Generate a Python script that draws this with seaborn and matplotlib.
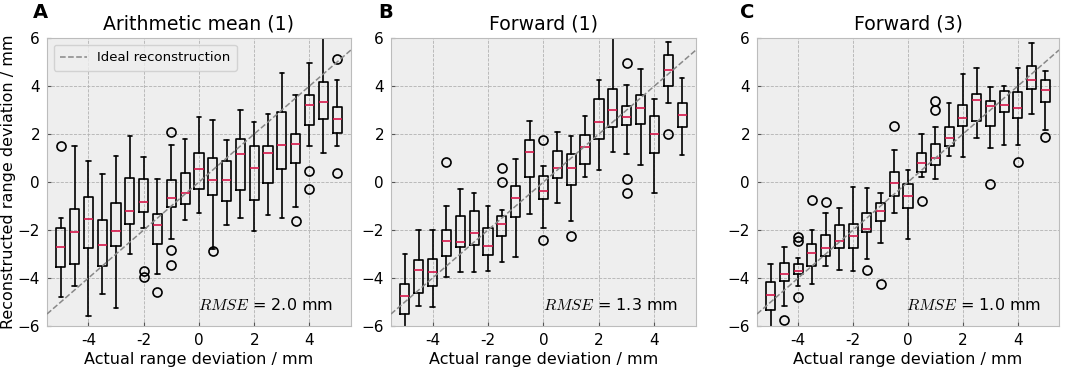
import matplotlib
matplotlib.use("Agg")
import matplotlib.pyplot as plt
import seaborn as sns

# actual range deviations (box positions) and tick labels
positions = [-5, -4.5, -4, -3.5, -3, -2.5, -2, -1.5, -1, -0.5, 0,
             0.5, 1, 1.5, 2, 2.5, 3, 3.5, 4, 4.5, 5]
xtick_vals = [-4, -2, 0, 2, 4]
xtick_labels = ["-4", "-2", "0", "2", "4"]
ytick_vals = [-6, -4, -2, 0, 2, 4, 6]
ideal_x = [-5.5, 5.5]

# Panel A: Arithmetic mean (1)
a_whislo = [-4.79, -4.33, -5.60, -4.65, -5.23, -2.98, -1.91, -3.83, -2.37, -1.59, -1.28,
            -2.78, -1.80, -1.48, -2.03, -1.36, -1.48, -1.04, 1.52, 1.22, 1.52]
a_q1 = [-3.56, -3.40, -2.73, -3.49, -2.67, -1.73, -1.24, -2.58, -1.06, -0.92, -0.29,
        -0.54, -0.78, -0.32, -0.77, -0.04, 0.54, 0.79, 2.38, 2.62, 2.06]
a_med = [-2.70, -2.07, -1.55, -2.63, -2.06, -1.20, -0.82, -1.80, -0.68, -0.45, 0.53,
         0.07, 0.10, 1.18, 0.57, 1.20, 1.53, 1.57, 3.19, 3.33, 2.63]
a_q3 = [-1.91, -1.11, -0.61, -1.59, -0.89, 0.18, 0.13, -1.34, 0.07, 0.36, 1.22,
        1.00, 0.88, 1.78, 1.48, 1.52, 2.90, 2.00, 3.63, 4.15, 3.12]
a_whishi = [-1.49, 1.52, 0.86, 0.33, 1.07, 1.91, 1.03, 0.13, 1.53, 1.79, 2.69,
            2.60, 1.74, 3.01, 2.49, 2.85, 4.54, 3.63, 4.96, 6.30, 4.26]
a_fliers = [[1.52], [], [], [], [], [], [-3.70, -3.94], [-4.59], [2.10, -2.84, -3.47], [], [],
            [-2.86], [], [], [], [], [], [-1.63], [0.45, -0.29], [], [5.12, 0.36]]

# Panel B: Forward (1)
b_whislo = [-6.30, -5.17, -5.22, -3.94, -3.76, -3.75, -3.70, -3.33, -3.13, -1.35, -1.92,
            -0.89, -1.62, 0.22, 0.51, 1.27, 1.16, 0.71, -0.45, 3.30, 1.13]
b_q1 = [-5.49, -4.61, -4.34, -3.08, -2.72, -2.63, -3.05, -2.27, -1.46, 0.21, -0.71,
        0.15, -0.14, 0.75, 1.81, 2.31, 2.37, 2.42, 1.22, 4.01, 2.28]
b_med = [-4.73, -3.68, -3.77, -2.44, -2.51, -2.12, -2.65, -1.74, -0.67, 1.25, -0.36,
         0.57, 0.60, 1.46, 2.51, 3.01, 2.71, 3.08, 2.00, 4.68, 2.81]
b_q3 = [-4.26, -3.23, -3.19, -2.00, -1.43, -1.21, -1.91, -1.43, -0.15, 1.77, 0.25,
        1.28, 1.16, 1.95, 3.45, 3.86, 3.17, 3.63, 2.77, 5.30, 3.31]
b_whishi = [-3.01, -1.99, -2.02, -1.00, -0.29, -0.47, -0.99, -1.16, 0.96, 2.55, 0.68,
            2.07, 1.91, 2.73, 4.26, 6.30, 4.05, 4.71, 3.45, 5.82, 4.33]
b_fliers = [[], [], [], [0.85], [], [], [], [0.60, 0.01], [], [], [1.75, -2.42],
            [], [-2.24], [], [], [], [4.94, 0.14, -0.45], [], [], [1.98], []]

# Panel C: Forward (3)
c_whislo = [-6.20, -5.18, -4.34, -4.26, -3.49, -3.65, -3.72, -3.19, -2.56, -1.28, -2.37,
            0.21, 0.14, 1.09, 1.04, 1.84, 1.43, 1.56, 1.56, 2.84, 2.17]
c_q1 = [-5.32, -4.14, -3.84, -3.48, -3.09, -2.74, -2.77, -2.10, -1.63, -0.59, -1.10,
        0.43, 0.72, 1.52, 2.32, 2.55, 2.35, 2.91, 2.67, 3.87, 3.34]
c_med = [-4.71, -3.82, -3.70, -2.97, -2.77, -2.44, -2.26, -1.95, -1.21, -0.03, -0.59,
         0.79, 1.02, 1.85, 2.66, 3.42, 3.16, 3.20, 3.10, 4.26, 3.84]
c_q3 = [-4.16, -3.36, -3.40, -2.58, -2.21, -1.81, -1.73, -1.28, -0.86, 0.40, -0.10,
        1.21, 1.57, 2.28, 3.20, 3.66, 3.38, 3.79, 3.73, 4.84, 4.23]
c_whishi = [-3.41, -2.69, -3.15, -1.99, -1.28, -1.07, -0.19, -0.24, -0.45, 1.34, 0.51,
            1.98, 2.28, 3.30, 4.48, 4.77, 3.94, 4.02, 4.77, 5.79, 4.61]
c_fliers = [[], [-5.74], [-2.30, -2.47, -4.79], [-0.75], [-0.85], [], [], [-3.68], [-4.26], [2.35], [],
            [-0.78], [3.37, 3.02], [], [], [], [-0.08], [], [0.83], [], [1.89]]

titles = ["Arithmetic mean (1)", "Forward (1)", "Forward (3)"]
letters = ["A", "B", "C"]
rmse = ["2.0", "1.3", "1.0"]

panels = [
    (a_whislo, a_q1, a_med, a_q3, a_whishi, a_fliers),
    (b_whislo, b_q1, b_med, b_q3, b_whishi, b_fliers),
    (c_whislo, c_q1, c_med, c_q3, c_whishi, c_fliers),
]

sns.set_style("darkgrid", {
    "axes.facecolor": "#eeeeee",
    "axes.edgecolor": "#bcbcbc",
    "axes.linewidth": 1.0,
    "grid.color": "#b2b2b2",
    "grid.linestyle": "--",
    "xtick.bottom": True,
    "ytick.left": True,
    "xtick.direction": "in",
    "ytick.direction": "in",
    "xtick.color": "black",
    "ytick.color": "black",
    "text.color": "black",
    "axes.labelcolor": "black",
})
plt.rcParams["font.family"] = ["DejaVu Sans"]
plt.rcParams["mathtext.fontset"] = "cm"
plt.rcParams["grid.linewidth"] = 0.6

fig = plt.figure(figsize=(10.65, 3.69), dpi=100)
lefts = [0.0441, 0.3671, 0.7108]
widths = [0.2854, 0.2864, 0.2836]
letter_x = [33, 378, 740]

for i, (wlo, q1, med, q3, whi, fl) in enumerate(panels):
    ax = fig.add_axes([lefts[i], 0.1165, widths[i], 0.7805])
    sns.lineplot(x=ideal_x, y=ideal_x, ax=ax, color="#888888", linestyle="--",
                 linewidth=1.1, label="Ideal reconstruction" if i == 0 else None,
                 zorder=3)
    stats = [dict(whislo=wlo[k], q1=q1[k], med=med[k], q3=q3[k], whishi=whi[k],
                  fliers=fl[k]) for k in range(len(positions))]
    ax.bxp(stats, positions=positions, widths=0.33, manage_ticks=False,
           boxprops=dict(color="black", linewidth=1.2),
           whiskerprops=dict(color="black", linewidth=1.2),
           capprops=dict(color="black", linewidth=1.2),
           medianprops=dict(color="#d6174a", linewidth=1.2),
           flierprops=dict(marker="o", markerfacecolor="none",
                           markeredgecolor="black", markersize=6.5,
                           markeredgewidth=1.2))
    ax.set_xlim(-5.5, 5.5)
    ax.set_ylim(-6, 6)
    ax.set_xticks(xtick_vals)
    ax.set_xticklabels(xtick_labels)
    ax.set_yticks(ytick_vals)
    ax.tick_params(labelsize=11, length=3, width=0.8, color="#555555", pad=5)
    ax.set_xlabel("Actual range deviation / mm", fontsize=11.5, labelpad=3)
    ax.set_title(titles[i], fontsize=13.6, pad=6)
    ax.text(0.94, 0.045, "$RMSE$ = " + rmse[i] + " mm", transform=ax.transAxes,
            ha="right", va="bottom", fontsize=11.5)
    fig.text(letter_x[i] / 1065, 1 - 18 / 369, letters[i], fontsize=14,
             fontweight="bold", ha="left", va="baseline")
    if i == 0:
        ax.set_ylabel("Reconstructed range deviation / mm", fontsize=11.5, labelpad=1)
        ax.legend(loc="upper left", fontsize=9.5, frameon=True, facecolor="#eeeeee",
                  edgecolor="#cccccc", handlelength=2.0, borderpad=0.5)
    else:
        ax.set_ylabel("")

fig.savefig("out.png", dpi=100)
